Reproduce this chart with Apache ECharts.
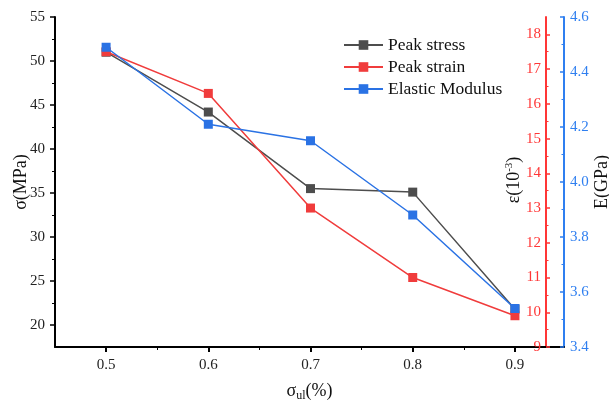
<!DOCTYPE html>
<html>
<head>
<meta charset="utf-8">
<script src="https://cdn.jsdelivr.net/npm/echarts@6/dist/echarts.min.js"></script>
<style>html,body{margin:0;padding:0;background:#fff}#c{width:609px;height:404px}</style>
</head>
<body>
<div id="c"></div>
<script>
// ---- data ----
const xValues = [0.5, 0.6, 0.7, 0.8, 0.9];
const peakStress = [51.0, 44.2, 35.5, 35.1, 21.8];      // MPa, left axis
const peakStrain = [17.5, 16.3, 13.0, 11.0, 9.9];       // 10^-3, red axis
const elasticModulus = [4.49, 4.21, 4.15, 3.88, 3.54];  // GPa, blue axis

const xTickLabels = [0.5, 0.6, 0.7, 0.8, 0.9];
const xMinorTicks = [0.55, 0.65, 0.75, 0.85];
const stressTicks = [20, 25, 30, 35, 40, 45, 50, 55];
const stressMinor = [22.5, 27.5, 32.5, 37.5, 42.5, 47.5, 52.5];
const strainTicks = [9, 10, 11, 12, 13, 14, 15, 16, 17, 18];
const strainMinor = [9.5, 10.5, 11.5, 12.5, 13.5, 14.5, 15.5, 16.5, 17.5];
const modulusTicks = [3.4, 3.6, 3.8, 4.0, 4.2, 4.4, 4.6];
const modulusMinor = [3.5, 3.7, 3.9, 4.1, 4.3, 4.5];

const FONT = "'Times New Roman', 'Liberation Serif', serif";
const BLACK = '#4d4d4d', RED = '#f03c3c', BLUE = '#2a72e4';
const RED_AX = '#ff3636', BLUE_AX = '#2f7ff0';

const X_MIN = 0.45, X_MAX = 0.948;
const S_MIN = 17.5, S_MAX = 55;
const E_MIN = 9, E_MAX = 18.5;
const M_MIN = 3.4, M_MAX = 4.6;

function pairs(ys) { return xValues.map((x, i) => [x, ys[i]]); }

const chart = echarts.init(document.getElementById('c'), null, {renderer: 'canvas'});

const noSplit = {splitLine: {show: false}};

chart.setOption({
  animation: false,
  backgroundColor: '#fff',
  textStyle: {fontFamily: FONT},
  grid: {left: 55, right: 45, top: 17, bottom: 57, containLabel: false, outerBoundsMode: 'none'},
  legend: {
    orient: 'vertical', left: 343, top: 36, padding: 0,
    itemWidth: 39, itemHeight: 12, itemGap: 4,
    textStyle: {fontFamily: FONT, fontSize: 17.5, color: '#111', lineHeight: 18},
    data: ['Peak stress', 'Peak strain', 'Elastic Modulus']
  },
  graphic: [
    {
      type: 'text', x: 514, y: 180, rotation: Math.PI / 2,
      style: {
        text: 'ε(10{sup|-3})', fontFamily: FONT, fontSize: 18, fill: '#111',
        align: 'center', verticalAlign: 'middle',
        rich: {sup: {fontFamily: FONT, fontSize: 11, verticalAlign: 'top', padding: [0, 0, 9, 0], fill: '#111'}}
      }
    }
  ],
  xAxis: [
    {
      type: 'value', min: X_MIN, max: X_MAX, position: 'bottom',
      name: 'σ{sub|ul}(%)', nameLocation: 'middle', nameGap: 34,
      nameTextStyle: {fontFamily: FONT, fontSize: 18, color: '#111',
        rich: {sub: {fontFamily: FONT, fontSize: 12, verticalAlign: 'bottom', padding: [9, 0, 0, 0], color: '#111'}}},
      axisLine: {show: true, onZero: false, lineStyle: {color: '#000', width: 2}},
      axisTick: {show: true, customValues: xTickLabels, length: 5, lineStyle: {color: '#000', width: 2}},
      axisLabel: {customValues: xTickLabels, margin: 11, fontFamily: FONT, fontSize: 15, color: '#222',
        formatter: v => v.toFixed(1)},
      ...noSplit
    },
    {
      type: 'value', min: X_MIN, max: X_MAX, position: 'bottom',
      axisLine: {show: false, onZero: false},
      axisTick: {show: true, customValues: xMinorTicks, length: 3, lineStyle: {color: '#000', width: 1}},
      axisLabel: {show: false},
      ...noSplit
    }
  ],
  yAxis: [
    {
      type: 'value', min: S_MIN, max: S_MAX, position: 'left',
      name: 'σ(MPa)', nameLocation: 'middle', nameGap: 25, nameRotate: 90, nameMoveOverlap: false,
      nameTextStyle: {fontFamily: FONT, fontSize: 18, color: '#111'},
      axisLine: {show: true, onZero: false, lineStyle: {color: '#000', width: 2}},
      axisTick: {show: true, customValues: stressTicks, length: 5, lineStyle: {color: '#000', width: 1.5}},
      axisLabel: {customValues: stressTicks, margin: 10, fontFamily: FONT, fontSize: 15, color: '#222'},
      ...noSplit
    },
    {
      type: 'value', min: E_MIN, max: E_MAX, position: 'right', offset: -18,
      axisLine: {show: true, onZero: false, lineStyle: {color: RED_AX, width: 2}},
      axisTick: {show: true, customValues: strainTicks, length: 4, lineStyle: {color: RED_AX, width: 1.5}},
      axisLabel: {customValues: strainTicks, inside: true, margin: 5, fontFamily: FONT, fontSize: 15, color: RED_AX},
      ...noSplit
    },
    {
      type: 'value', min: M_MIN, max: M_MAX, position: 'right', offset: 0,
      name: 'E(GPa)', nameLocation: 'middle', nameGap: 29, nameRotate: 90, nameMoveOverlap: false,
      nameTextStyle: {fontFamily: FONT, fontSize: 18, color: '#111'},
      axisLine: {show: true, onZero: false, lineStyle: {color: BLUE_AX, width: 2}},
      axisTick: {show: true, inside: true, customValues: modulusTicks, length: 4, lineStyle: {color: BLUE_AX, width: 1.5}},
      axisLabel: {customValues: modulusTicks, margin: 6, fontFamily: FONT, fontSize: 15, color: BLUE_AX,
        formatter: v => v.toFixed(1)},
      ...noSplit
    },
    {
      type: 'value', min: S_MIN, max: S_MAX, position: 'left',
      axisLine: {show: false, onZero: false},
      axisTick: {show: true, customValues: stressMinor, length: 3, lineStyle: {color: '#000', width: 1}},
      axisLabel: {show: false}, ...noSplit
    },
    {
      type: 'value', min: E_MIN, max: E_MAX, position: 'right', offset: -18,
      axisLine: {show: false, onZero: false},
      axisTick: {show: true, customValues: strainMinor, length: 2.5, lineStyle: {color: RED_AX, width: 1}},
      axisLabel: {show: false}, ...noSplit
    },
    {
      type: 'value', min: M_MIN, max: M_MAX, position: 'right', offset: 0,
      axisLine: {show: false, onZero: false},
      axisTick: {show: true, inside: true, customValues: modulusMinor, length: 2.5, lineStyle: {color: BLUE_AX, width: 1}},
      axisLabel: {show: false}, ...noSplit
    }
  ],
  series: [
    {
      name: 'Peak stress', type: 'line', xAxisIndex: 0, yAxisIndex: 0,
      data: pairs(peakStress), symbol: 'rect', symbolSize: 9,
      lineStyle: {color: BLACK, width: 1.5}, itemStyle: {color: BLACK}, z: 2
    },
    {
      name: 'Peak strain', type: 'line', xAxisIndex: 0, yAxisIndex: 1,
      data: pairs(peakStrain), symbol: 'rect', symbolSize: 9,
      lineStyle: {color: RED, width: 1.5}, itemStyle: {color: RED}, z: 3
    },
    {
      name: 'Elastic Modulus', type: 'line', xAxisIndex: 0, yAxisIndex: 2,
      data: pairs(elasticModulus), symbol: 'rect', symbolSize: 9,
      lineStyle: {color: BLUE, width: 1.5}, itemStyle: {color: BLUE}, z: 4
    }
  ]
});
</script>
</body>
</html>
